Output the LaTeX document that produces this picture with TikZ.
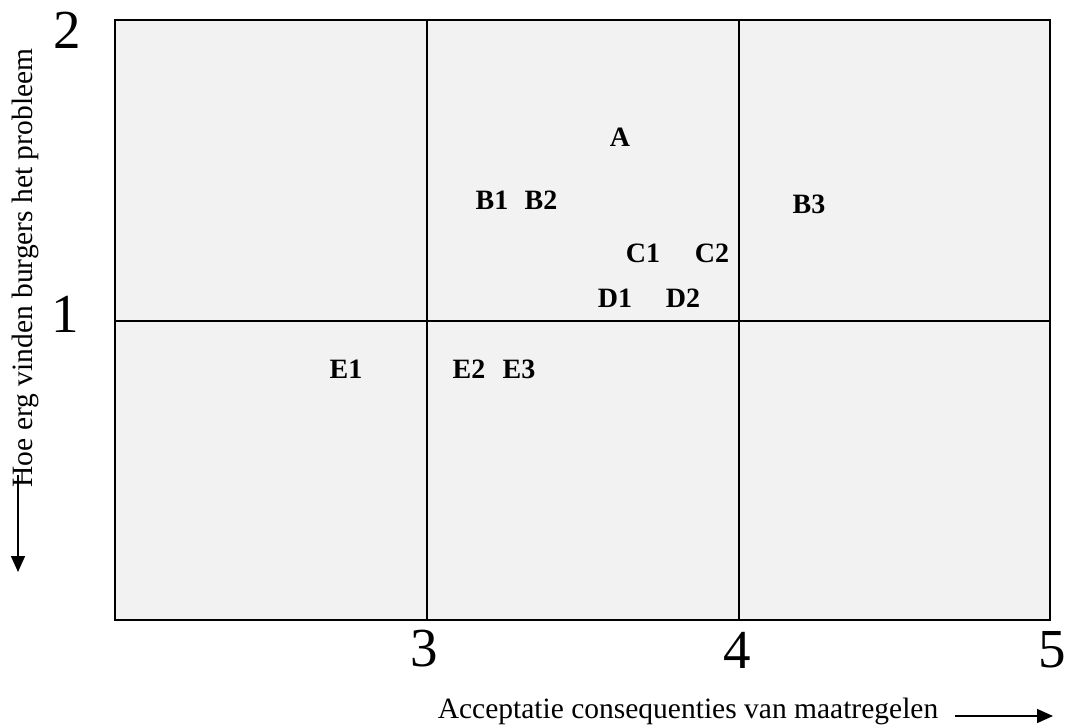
\documentclass[tikz,border=0pt]{standalone}
\usepackage{fontspec}
\setmainfont{Liberation Serif}
\usetikzlibrary{arrows.meta}
\tikzset{
  cell/.style={fill=gray!10, draw=black, line width=2pt},
  gridline/.style={draw=black, line width=2pt},
  pt/.style={font=\fontsize{28}{30}\selectfont\bfseries, inner sep=0pt, anchor=center},
  tick/.style={font=\fontsize{55}{60}\selectfont, inner sep=0pt, anchor=center},
  axislabel/.style={font=\fontsize{29.5}{32}\selectfont, inner sep=0pt, anchor=base},
  axisarrow/.style={line width=1.5pt, -{Triangle[length=16pt,width=14pt]}}
}
\begin{document}
\begin{tikzpicture}[x=1pt,y=-1pt]
\useasboundingbox (0,0) rectangle (1066,724);
% grid
\path[cell] (115,20) rectangle (1050,620);
\draw[gridline] (427,20) -- (427,620);
\draw[gridline] (739,20) -- (739,620);
\draw[gridline] (115,321) -- (1050,321);
% ticks
\node[tick] (t2) at (67,30) {2};
\node[tick] (t1) at (65,314) {1};
\node[tick] (t3) at (424,649) {3};
\node[tick] (t4) at (737,650) {4};
\node[tick] (t5) at (1052,650) {5};
% points
\node[pt] (A) at (620,137) {A};
\node[pt] (B1) at (492,200) {B1};
\node[pt] (B2) at (541,200) {B2};
\node[pt] (B3) at (809,204) {B3};
\node[pt] (C1) at (643,253) {C1};
\node[pt] (C2) at (712,253) {C2};
\node[pt] (D1) at (615,298) {D1};
\node[pt] (D2) at (683,298) {D2};
\node[pt] (E1) at (346,369) {E1};
\node[pt] (E2) at (469,369) {E2};
\node[pt] (E3) at (519,369) {E3};
% axis labels
\node[axislabel, rotate=90] (ylab) at (32,268) {Hoe erg vinden burgers het probleem};
\node[axislabel] (xlab) at (688,718) {Acceptatie consequenties van maatregelen};
% axis arrows
\coordinate (ya) at (18,475);
\coordinate (yb) at (18,572);
\coordinate (xa) at (955,716);
\coordinate (xb) at (1053,716);
\draw[axisarrow] (ya) -- (yb);
\draw[axisarrow] (xa) -- (xb);
\end{tikzpicture}
\end{document}
